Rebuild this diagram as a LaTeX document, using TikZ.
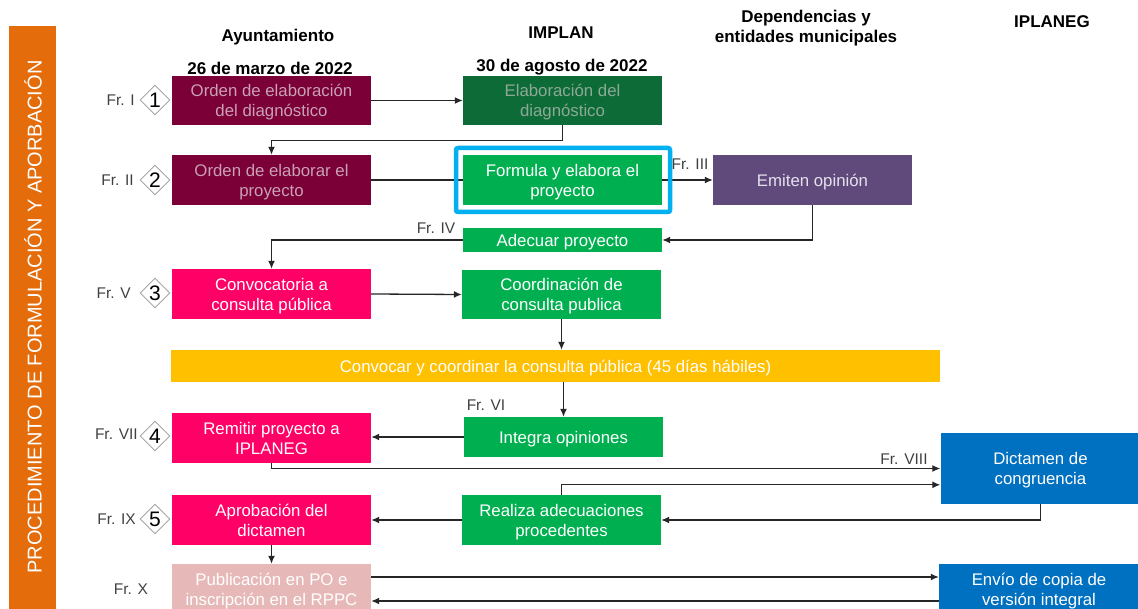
\documentclass[tikz,border=0pt]{standalone}
\usepackage{fontspec}
\setmainfont{Liberation Sans}
\usetikzlibrary{arrows.meta,shapes.geometric}
\definecolor{cMaroon}{HTML}{7A0037}
\definecolor{cMaroonTxt}{HTML}{C9A0B4}
\definecolor{cDkGreen}{HTML}{0C6B37}
\definecolor{cDkGreenTxt}{HTML}{8DA996}
\definecolor{cGreen}{HTML}{00B050}
\definecolor{cPurple}{HTML}{604A7B}
\definecolor{cPurpleTxt}{HTML}{E6E0EE}
\definecolor{cPink}{HTML}{FF0066}
\definecolor{cLtPink}{HTML}{E6B9B8}
\definecolor{cYellow}{HTML}{FFC000}
\definecolor{cBlue}{HTML}{0070C0}
\definecolor{cCyan}{HTML}{00B0F0}
\definecolor{cOrange}{HTML}{E46C0A}
\definecolor{cLine}{HTML}{262626}
\definecolor{cText}{HTML}{404040}
\definecolor{cGray}{HTML}{A6A6A6}
\begin{document}
\begin{tikzpicture}[x=1pt,y=-1pt,
  box/.style={draw=none, minimum width=199pt, minimum height=50pt, align=center,
    font=\fontsize{16.8}{20}\selectfont, inner sep=0pt, text=white, text depth=0pt},
  conn/.style={line width=1.3pt, draw=cLine},
  arr/.style={conn, -{Latex[length=8pt,width=7pt]}},
  frl/.style={font=\fontsize{15.5}{18}\selectfont, text=cText, inner sep=0pt},
  dia/.style={diamond, draw=cGray, line width=0.9pt, fill=white, minimum width=30pt,
    minimum height=30pt, inner sep=0pt, font=\fontsize{21}{21}\selectfont},
  hdr/.style={font=\bfseries\fontsize{17}{20}\selectfont, align=center, inner sep=0pt}]
\useasboundingbox (0,0) rectangle (1138,609);
\clip (0,0) rectangle (1138,609);

% side bar
\fill[cOrange] (9,26) rectangle (56,612);
\node[rotate=90, text=white, font=\fontsize{20}{22}\selectfont, inner sep=0pt] (side) at (33,317)
  {PROCEDIMIENTO DE FORMULACIÓN Y APORBACIÓN};

% headers
\node[hdr] (h1) at (278,37) {Ayuntamiento};
\node[hdr] (h1d) at (270,68) {26 de marzo de 2022};
\node[hdr] (h2) at (561,33) {IMPLAN};
\node[hdr] (h2d) at (562,67) {30 de agosto de 2022};
\node[hdr] (h3) at (806,28) {Dependencias y\\entidades municipales};
\node[hdr] (h4) at (1052,22) {IPLANEG};

% boxes
\node[box, fill=cMaroon, text=cMaroonTxt, minimum height=49pt] (o1) at (271.5,100.5) {Orden de elaboración\\del diagnóstico};
\node[box, fill=cDkGreen, text=cDkGreenTxt, minimum height=49pt] (e1) at (562.5,100.5) {Elaboración del\\diagnóstico};
\node[box, fill=cMaroon, text=cMaroonTxt] (o2) at (271.5,180) {Orden de elaborar el\\proyecto};
\node[box, fill=cGreen] (f) at (562.5,180) {Formula y elabora el\\proyecto};
\node[box, fill=cPurple, text=cPurpleTxt] (em) at (812.5,180) {Emiten opinión};
\node[box, fill=cGreen, minimum height=24pt] (ad) at (562.5,240) {Adecuar proyecto};
\node[box, fill=cPink] (cv) at (271.5,294) {Convocatoria a\\consulta pública};
\node[box, fill=cGreen, minimum height=49pt] (co) at (561.5,294.5) {Coordinación de\\consulta publica};
\node[box, fill=cYellow, minimum width=769pt, minimum height=32pt] (yb) at (555.5,366) {Convocar y coordinar la consulta pública (45 días hábiles)};
\node[box, fill=cGreen, minimum height=40pt] (io) at (563.5,437) {Integra opiniones};
\node[box, fill=cPink] (rp) at (271.5,438) {Remitir proyecto a\\IPLANEG};
\node[box, fill=cBlue, minimum width=200pt, minimum height=71pt] (dc) at (1040.5,468.5) {Dictamen de\\congruencia};
\node[box, fill=cGreen] (ra) at (561.5,520) {Realiza adecuaciones\\procedentes};
\node[box, fill=cPink] (ap) at (271.5,520) {Aprobación del\\dictamen};
\node[box, fill=cLtPink] (pu) at (271.5,589) {Publicación en PO e\\inscripción en el RPPC};
\node[box, fill=cBlue, minimum width=200pt] (en) at (1039,589) {Envío de copia de\\versión integral};

% connectors
\draw[arr] (o1.east) -- (e1.west);
\draw[arr] (e1.south) -- ++(0,15) -| (o2.north);
\draw[conn] (o2.east) -- (f.west);
\draw[arr] (f.east) -- (em.west);
\draw[arr] (em.south) |- (ad.east);
\draw[arr] (ad.west) -| (cv.north);
\draw[arr] (cv.east) -- (co.west);
\draw[arr] (co.south) -- (co.south |- yb.north);
\draw[arr] (yb.south -| io.north) -- (io.north);
\draw[arr] (io.west) -- (rp.east |- io.west);
\draw[arr] (rp.south) |- (dc.west);
\draw[arr] (ra.north) -- ++(0,-10) coordinate (k) -- (k -| dc.west);
\draw[arr] (dc.south) |- (ra.east);
\draw[arr] (ra.west) -- (ap.east);
\draw[arr] (ap.south) -- (pu.north);
\draw[arr] ([yshift=12pt]pu.east) -- ([yshift=12pt]en.west);
\draw[arr] ([yshift=-12pt]en.west) -- ([yshift=-12pt]pu.east);

% highlight frame
\draw[cCyan, line width=4.5pt, rounded corners=2pt] (456,148) rectangle (670,212);

% labels
\node[frl] (l3) at (690,164) {Fr. III};
\node[frl] (l4) at (436,228) {Fr. IV};
\node[frl] (l6) at (486,405) {Fr. VI};
\node[frl] (l8) at (904,459) {Fr. VIII};

\node[dia] (d1) at (155,100) {1};
\node[dia] (d2) at (155,180) {2};
\node[dia] (d3) at (155,293) {3};
\node[dia] (d4) at (155,436) {4};
\node[dia] (d5) at (155,519) {5};
\node[frl, anchor=east] (f1) at (135,100) {Fr. I};
\node[frl, anchor=east] (f2) at (134,180) {Fr. II};
\node[frl, anchor=east] (f5) at (131,293) {Fr. V};
\node[frl, anchor=east] (f7) at (138,434) {Fr. VII};
\node[frl, anchor=east] (f9) at (136,519) {Fr. IX};
\node[frl] (f10) at (131,589) {Fr. X};
\end{tikzpicture}
\end{document}
